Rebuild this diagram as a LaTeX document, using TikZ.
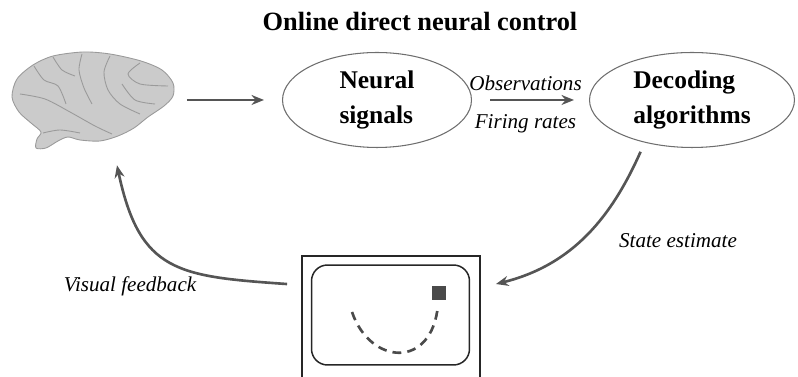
\documentclass[tikz,border=0pt]{standalone}
\usepackage{fontspec}
\setmainfont{Liberation Serif}
\usetikzlibrary{shapes.geometric, arrows.meta}

\definecolor{arrowgray}{HTML}{555555}
\definecolor{ellgray}{HTML}{6E6E6E}
\definecolor{brainfill}{HTML}{CBCBCB}
\definecolor{brainline}{HTML}{9A9A9A}
\definecolor{cursorgray}{HTML}{4A4A4A}

\tikzstyle{heading} = [font=\fontsize{15}{18}\selectfont\bfseries]
\tikzstyle{stage} = [ellipse, draw=ellgray, line width=0.6pt, inner sep=0pt, minimum height=1.9cm, align=left, font=\fontsize{14.5}{20}\selectfont\bfseries]
\tikzstyle{note} = [font=\fontsize{12}{14}\selectfont\itshape]
\tikzstyle{arrow} = [line width=1.5pt, draw=arrowgray, -{Stealth[length=0.25cm, width=0.2cm]}]
\tikzstyle{monitor} = [rectangle, draw=black!85, line width=1.1pt, minimum width=3.56cm, minimum height=2.96cm]
\tikzstyle{display} = [rectangle, rounded corners=0.32cm, draw=black!85, line width=0.85pt, minimum width=3.16cm, minimum height=2cm]
\tikzstyle{cursor} = [rectangle, fill=cursorgray, minimum size=0.28cm, inner sep=0pt]
\tikzstyle{trail} = [dash pattern=on 5pt off 3.5pt, line width=1.5pt, draw=cursorgray]
\tikzstyle{sulcus} = [draw=brainline, line width=0.5pt]

\begin{document}
\begin{tikzpicture}[x=0.02cm, y=-0.02cm]
\useasboundingbox (0,0) rectangle (798,377);
\clip (0,0) rectangle (798,377);

\node (title) [heading] at (420,22) {Online direct neural control};

% brain
\node (brain) [minimum width=3.3cm, minimum height=1.9cm] at (92,100) {};
\filldraw [fill=brainfill, draw=brainline, line width=0.5pt] plot [smooth cycle] coordinates {(12,97) (17,79) (33,65) (53,56) (83,52) (110,54) (141,61) (162,70) (173,83) (173,96) (164,106) (148,117) (134,128) (118,136) (100,141) (80,140) (68,137) (58,141) (46,148) (36,148) (37,139) (41,132) (31,123) (19,112)};
\draw [sulcus] plot [smooth] coordinates {(20,94) (45,99) (70,112) (95,126) (112,134)};
\draw [sulcus] plot [smooth] coordinates {(82,54) (79,70) (84,88) (92,104)};
\draw [sulcus] plot [smooth] coordinates {(110,56) (104,72) (108,90) (120,104) (140,114)};
\draw [sulcus] plot [smooth] coordinates {(140,63) (128,74) (140,84) (168,86)};
\draw [sulcus] plot [smooth] coordinates {(34,66) (44,80) (58,86) (66,104)};
\draw [sulcus] plot [smooth] coordinates {(53,57) (62,70) (75,76)};
\draw [sulcus] plot [smooth] coordinates {(43,133) (60,130) (80,133)};
\draw [sulcus] plot [smooth] coordinates {(122,84) (135,100) (155,104)};

\node (neural) [stage, minimum width=3.78cm] at (377,100) {Neural\\signals};
\node (dec) [stage, minimum width=4.1cm] at (692,100) {Decoding\\algorithms};

% screen with cursor trail
\node (screen) [monitor] at (391,330) {};
\node (display) [display] at (390.5,315) {};
\node (cursor) [cursor] at (439,293.5) {};
\coordinate (trailstart) at (352,312);
\coordinate (trailend) at (438,305);
\draw [trail] (trailstart) .. controls (370,365) and (432,370) .. (trailend);

\draw [arrow, shorten <=0.24cm, shorten >=0.36cm] (brain.east) -- (neural.west);
\draw [arrow, shorten <=0.36cm, shorten >=0.3cm] (neural.east) -- node[note, above=1pt, xshift=-0.1cm] {Observations} node[note, below=4pt, xshift=-0.1cm] {Firing rates} (dec.west);
\draw [arrow, shorten <=0.2cm] (dec.222) to[out=-114, in=14] ([xshift=0.3cm, yshift=-0.58cm]screen.north east);
\draw [arrow] ([xshift=-0.28cm, yshift=-0.58cm]screen.north west) to[out=176, in=-78, looseness=1.35] ([xshift=0.5cm, yshift=-0.35cm]brain.south);

\node (estimate) [note] at (678,241) {State estimate};
\node (feedback) [note] at (130,286) {Visual feedback};

\end{tikzpicture}
\end{document}
